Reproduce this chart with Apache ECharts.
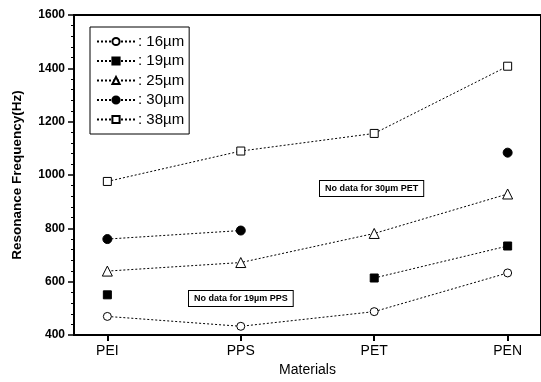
<!DOCTYPE html>
<html>
<head>
<meta charset="utf-8">
<script src="https://cdn.jsdelivr.net/npm/echarts@6/dist/echarts.min.js"></script>
<style>html,body{margin:0;padding:0;background:#fff}#c{width:541px;height:382px}</style>
</head>
<body>
<div id="c"></div>
<script>
// Film materials on the x axis
const materials = ['PEI', 'PPS', 'PET', 'PEN'];
// Resonance frequency (Hz) by film thickness; null = no measurement
const f16 = [470, 433, 488, 633];
const f19 = [551, null, 614, 734];
const f25 = [640, 672, 781, 929];
const f30 = [760, 792, null, 1084];
const f38 = [976, 1090, 1156, 1408];
const yTicks = [400, 600, 800, 1000, 1200, 1400, 1600];

const thickness = [
  { name: '16\u00b5m', vals: f16, symbol: 'circle', fill: '#fff', size: 8 },
  { name: '19\u00b5m', vals: f19, symbol: 'rect', fill: '#000', size: 8 },
  { name: '25\u00b5m', vals: f25, symbol: 'triangle', fill: '#fff', size: 10 },
  { name: '30\u00b5m', vals: f30, symbol: 'circle', fill: '#000', size: 9 },
  { name: '38\u00b5m', vals: f38, symbol: 'rect', fill: '#fff', size: 8 }
];

const font = 'Liberation Sans, Arial, sans-serif';
const idx = materials.map((m, i) => i);

const chart = echarts.init(document.getElementById('c'), null, { renderer: 'canvas' });
chart.setOption({
  animation: false,
  backgroundColor: '#fff',
  grid: { left: 74, top: 15, bottom: 42, right: -3, show: true, borderColor: '#000', borderWidth: 2 },
  xAxis: {
    type: 'value', min: -0.25, max: 3.25,
    name: 'Materials', nameLocation: 'middle', nameGap: 27,
    nameTextStyle: { fontFamily: font, fontSize: 14, color: '#000' },
    axisLine: { onZero: false, lineStyle: { color: '#000', width: 2 } },
    axisTick: { customValues: idx, length: 6, lineStyle: { color: '#000', width: 2 } },
    axisLabel: { customValues: idx, formatter: v => materials[Math.round(v)], fontFamily: font, fontSize: 14, color: '#000', margin: 9 },
    splitLine: { show: false }
  },
  yAxis: {
    type: 'value', min: yTicks[0], max: yTicks[yTicks.length - 1], interval: 200,
    name: 'Resonance Frequency(Hz)', nameLocation: 'middle', nameGap: 50,
    nameTextStyle: { fontFamily: font, fontSize: 13.5, fontWeight: 'bold', color: '#000' },
    axisLine: { show: true, onZero: false, lineStyle: { color: '#000', width: 2 } },
    axisTick: { length: 6, lineStyle: { color: '#000', width: 1.5 } },
    minorTick: { show: true, splitNumber: 5, length: 3, lineStyle: { color: '#000', width: 1 } },
    axisLabel: { formatter: v => String(v), fontFamily: font, fontSize: 12, fontWeight: 'bold', color: '#000', margin: 9 },
    splitLine: { show: false }
  },
  legend: {
    orient: 'vertical', left: 90, top: 27,
    backgroundColor: '#fff', borderColor: '#000', borderWidth: 1,
    padding: [7, 5, 7, 6], itemGap: 4.5, itemWidth: 38, itemHeight: 9,
    formatter: ': {name}',
    textStyle: { fontFamily: font, fontSize: 15, color: '#000', padding: [0, 0, 0, -2] }
  },
  series: thickness.map(t => ({
    name: t.name, type: 'line',
    data: t.vals.map((v, i) => [i, v == null ? '-' : v]),
    connectNulls: false,
    symbol: t.symbol, symbolSize: t.size, showSymbol: true,
    itemStyle: { color: t.fill, borderColor: '#000', borderWidth: 1 },
    lineStyle: { color: '#000', width: 1, type: [2, 2] },
    z: 3
  })),
  graphic: [
    {
      type: 'text', left: 319, top: 180, z: 10,
      style: { text: 'No data for 30\u00b5m PET', font: 'bold 9px ' + font, fill: '#000',
        backgroundColor: '#fff', borderColor: '#000', borderWidth: 1, padding: [3, 5, 3, 5] }
    },
    {
      type: 'text', left: 188, top: 290, z: 10,
      style: { text: 'No data for 19\u00b5m PPS', font: 'bold 9px ' + font, fill: '#000',
        backgroundColor: '#fff', borderColor: '#000', borderWidth: 1, padding: [3, 5, 3, 5] }
    }
  ]
});
</script>
</body>
</html>
